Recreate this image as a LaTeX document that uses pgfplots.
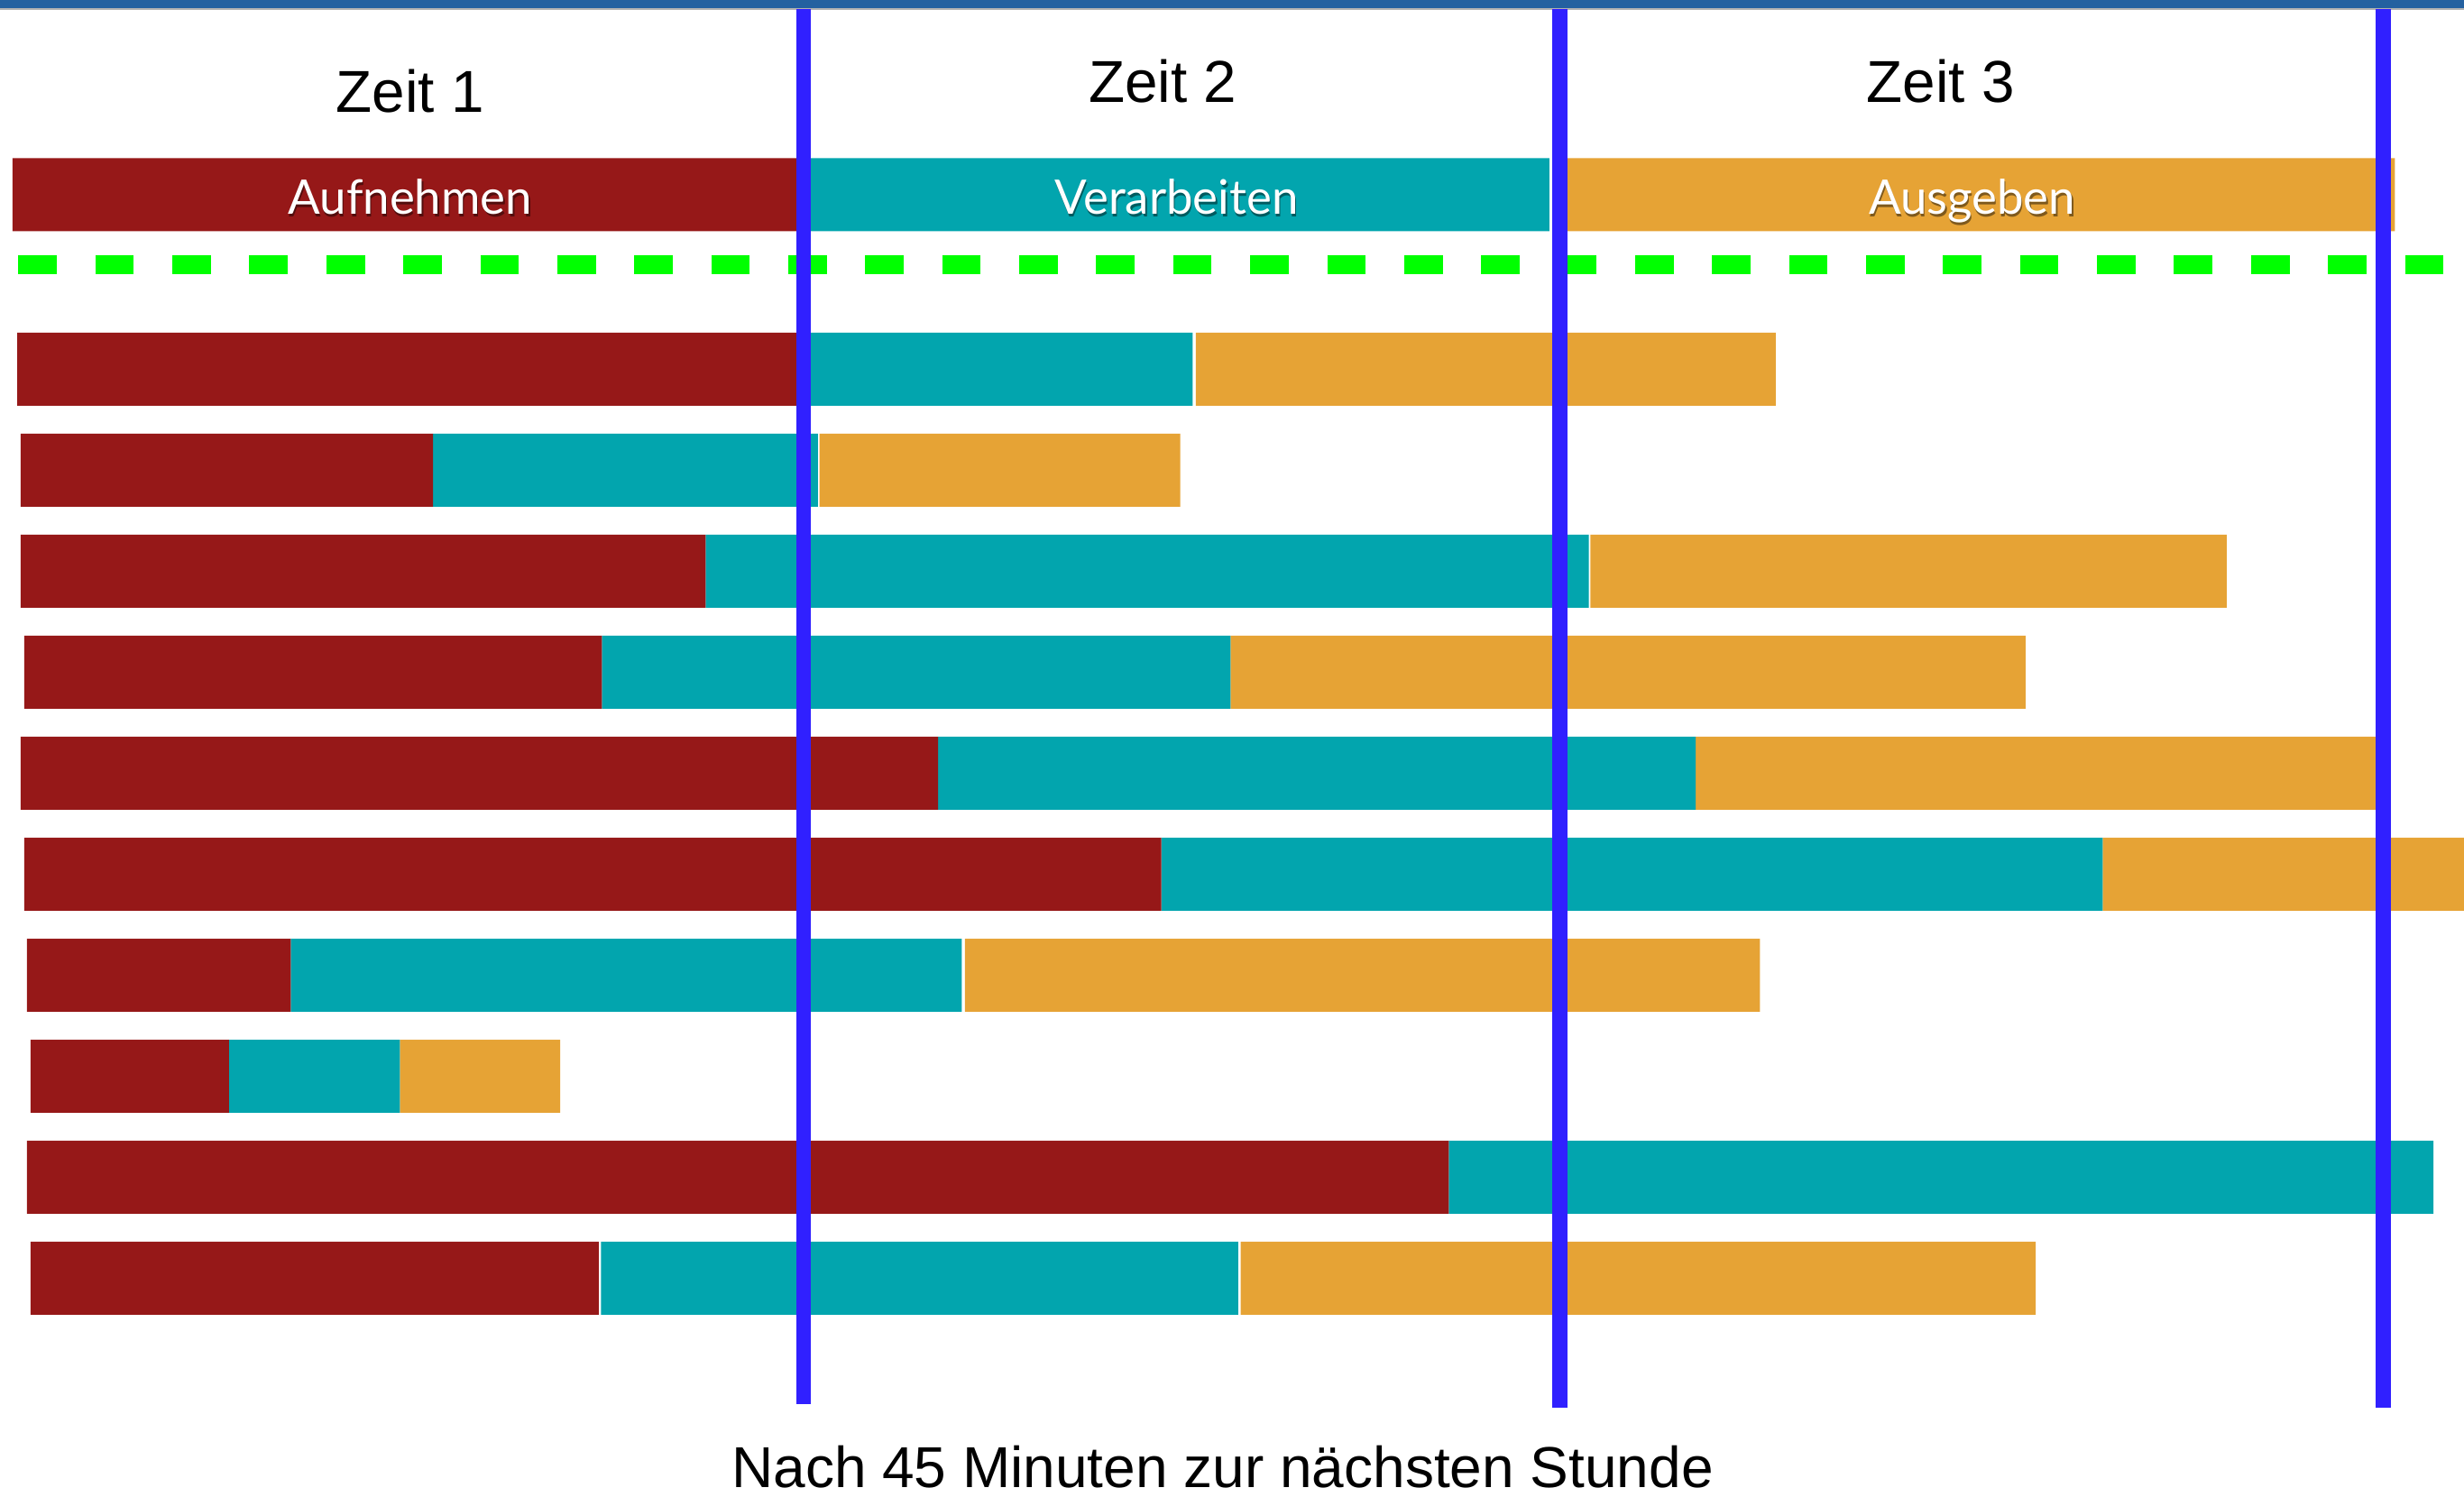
\documentclass[border=0pt]{standalone}
\usepackage{fontspec}
\setmainfont{Liberation Sans}
\newfontfamily\labelfont{Lato}
\usepackage{pgfplots}
\usepackage{pgfplotstable}
\pgfplotsset{compat=1.18}
\definecolor{cred}{HTML}{961818}
\definecolor{cteal}{HTML}{02A5AE}
\definecolor{corange}{HTML}{E6A335}
\definecolor{cblue}{HTML}{3020FF}
\definecolor{cgreen}{HTML}{00FF00}
\definecolor{ctop}{HTML}{2461A0}

% y = row centre, off = start, then segment lengths (gaps are white)
\pgfplotstableread{
y     off  red    ga   teal   gb   orange
124   8    502    0    476    4    534
235   11   499    0    249    2    369
299.3 13.2 262.4  0    244.9  1    229.5
363.6 13.2 435.8  0    562    1    405
427.9 15.4 367.6  0    400    0    506
492.2 13.2 583.8  0    482    0    433
556.5 15.4 723.6  0    599    0    230
620.8 17.2 167.8  0    427    2    506
685.1 19.4 126.3  0    108.7  0    102.1
749.4 17.2 904.8  0    626.5  0    0
813.7 19.4 361.6  1.5  405.5  1.5  506
}\bars

\pgfplotsset{
  base/.style={at={(0,0)}, anchor=south west, scale only axis,
    width=683pt, height=415pt, xmin=0, xmax=1568, ymin=0, ymax=953,
    y dir=reverse, hide axis, clip=false}
}
\tikzset{
  shadowlbl/.style={anchor=base, font=\labelfont\fontsize{13.2}{15}\selectfont, text=black, opacity=0.45},
  whitelbl/.style={anchor=base, font=\labelfont\fontsize{13.2}{15}\selectfont, text=white},
  zeit/.style={anchor=base, font=\fontsize{16.4}{18}\selectfont}
}

\begin{document}
\begin{tikzpicture}
\begin{axis}[base, xbar stacked, bar width=46.5]
\addplot[draw=none, fill=none] table[x=off, y=y]{\bars};
\addplot[draw=none, fill=cred] table[x=red, y=y]{\bars};
\addplot[draw=none, fill=none] table[x=ga, y=y]{\bars};
\addplot[draw=none, fill=cteal] table[x=teal, y=y]{\bars};
\addplot[draw=none, fill=none] table[x=gb, y=y]{\bars};
\addplot[draw=none, fill=corange] table[x=orange, y=y]{\bars};
\end{axis}
\begin{axis}[base]
\fill[ctop] (axis cs:0,0) rectangle (axis cs:1568,5.7);
\draw[gray!60, line width=0.3pt] (axis cs:0,5.7) -- (axis cs:1568,5.7);
\addplot[cgreen, line width=5.2pt, line cap=butt, dash pattern=on 10.67pt off 10.67pt] coordinates {(11.7,168.5) (1556,168.5)};
\addplot[cblue, line width=4.1pt] coordinates {(511.4,6) (511.4,894)};
\addplot[cblue, line width=4.1pt] coordinates {(992.6,6) (992.6,896)};
\addplot[cblue, line width=4.1pt] coordinates {(1516.7,6) (1516.7,896)};
% titles
\node[zeit] at (axis cs:261,71.7) {Zeit 1};
\node[zeit] at (axis cs:740,64.9) {Zeit 2};
\node[zeit] at (axis cs:1235,64.9) {Zeit 3};
% header labels with shadow
\node[shadowlbl] at (axis cs:261.8,138.2) {Aufnehmen};
\node[whitelbl] at (axis cs:261,136.6) {Aufnehmen};
\node[shadowlbl] at (axis cs:749.5,138.2) {Verarbeiten};
\node[whitelbl] at (axis cs:748.7,136.6) {Verarbeiten};
\node[shadowlbl] at (axis cs:1255.8,138.2) {Ausgeben};
\node[whitelbl] at (axis cs:1255,136.6) {Ausgeben};
\node[anchor=base, font=\fontsize{16}{18}\selectfont] at (axis cs:778,947) {Nach 45 Minuten zur nächsten Stunde};
\end{axis}
\pgfresetboundingbox
\path[use as bounding box] (0,0) rectangle (683pt,415pt);
\end{tikzpicture}
\end{document}
